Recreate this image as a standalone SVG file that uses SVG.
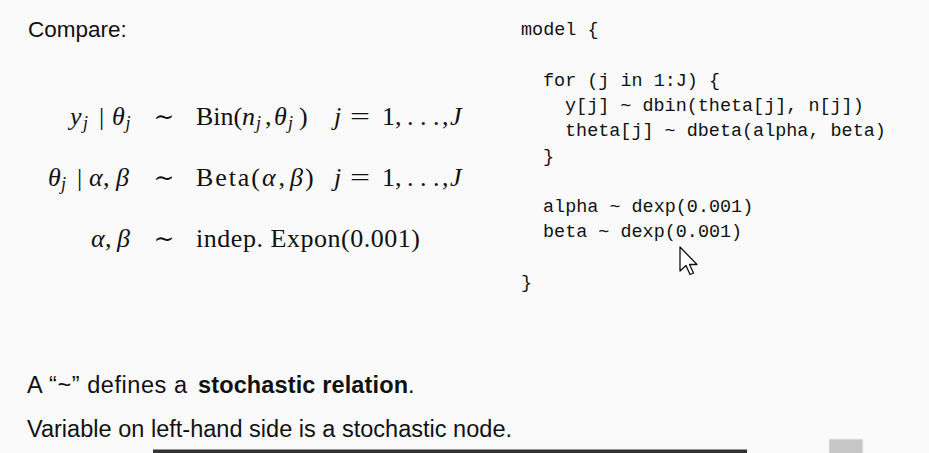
<svg xmlns="http://www.w3.org/2000/svg" width="929" height="453" viewBox="0 0 929 453">
<style>
.bg{fill:#fafafa}
.m{font-family:"Liberation Serif","DejaVu Serif",serif;font-size:26px;fill:#111}
.i{font-style:italic}
.s{font-family:"Liberation Serif","DejaVu Serif",serif;font-size:18px;font-style:italic;fill:#111}
.sim{font-family:"DejaVu Serif","Liberation Serif",serif;font-size:25px;fill:#111}
.code{font-family:"Liberation Mono","DejaVu Sans Mono",monospace;font-size:18.45px;fill:#111}
.t{font-family:"Liberation Sans","DejaVu Sans",sans-serif;font-size:23.5px;fill:#111}
.b{font-weight:bold}
.title{font-family:"Liberation Sans","DejaVu Sans",sans-serif;font-size:22.5px;fill:#111}
</style>
<rect class="bg" x="0" y="0" width="929" height="453"/>
<g id="title"><text class="title" x="28" y="37">Compare:</text></g>
<g id="math">
 <g id="eq1">
  <text class="m i" x="70" y="124.5">y</text>
  <text class="s" x="83" y="128.5">j</text>
  <text class="m" x="99" y="124.5">|</text>
  <text class="m i" x="112" y="124.5">θ</text>
  <text class="s" x="125.5" y="128.5">j</text>
  <text class="sim" x="164" y="124.5" text-anchor="middle">∼</text>
  <text class="m" x="196" y="124.5">Bin(</text>
  <text class="m i" x="242" y="124.5">n</text>
  <text class="s" x="256" y="128.5">j</text>
  <text class="m" x="265" y="124.5">,</text>
  <text class="m i" x="274" y="124.5">θ</text>
  <text class="s" x="288" y="128.5">j</text>
  <text class="m" x="299" y="124.5">)</text>
  <text class="m i" x="334" y="124.5">j</text>
  <text class="m" x="350" y="124.5" textLength="20" lengthAdjust="spacingAndGlyphs">=</text>
  <text class="m" x="382" y="124.5">1</text>
  <text class="m" x="395" y="124.5">,</text>
  <text class="m" x="407" y="124.5">.</text>
  <text class="m" x="420" y="124.5">.</text>
  <text class="m" x="433" y="124.5">.</text>
  <text class="m" x="442" y="124.5">,</text>
  <text class="m i" x="450" y="124.5">J</text>
 </g>
 <g id="eq2">
  <text class="m i" x="48" y="185.5">θ</text>
  <text class="s" x="61" y="189.5">j</text>
  <text class="m" x="77" y="185.5">|</text>
  <text class="m i" x="89" y="185.5">α</text>
  <text class="m" x="103" y="185.5">,</text>
  <text class="m i" x="116" y="185.5">β</text>
  <text class="sim" x="164" y="185.5" text-anchor="middle">∼</text>
  <text class="m" x="196" y="185.5" textLength="64" lengthAdjust="spacing">Beta(</text>
  <text class="m i" x="262" y="185.5">α</text>
  <text class="m" x="278.5" y="185.5">,</text>
  <text class="m i" x="290" y="185.5">β</text>
  <text class="m" x="305" y="185.5">)</text>
  <text class="m i" x="334" y="185.5">j</text>
  <text class="m" x="350" y="185.5" textLength="20" lengthAdjust="spacingAndGlyphs">=</text>
  <text class="m" x="382" y="185.5">1</text>
  <text class="m" x="395" y="185.5">,</text>
  <text class="m" x="407" y="185.5">.</text>
  <text class="m" x="420" y="185.5">.</text>
  <text class="m" x="433" y="185.5">.</text>
  <text class="m" x="442" y="185.5">,</text>
  <text class="m i" x="450" y="185.5">J</text>
 </g>
 <g id="eq3">
  <text class="m i" x="91" y="246.5">α</text>
  <text class="m" x="105" y="246.5">,</text>
  <text class="m i" x="117" y="246.5">β</text>
  <text class="sim" x="164" y="246.5" text-anchor="middle">∼</text>
  <text class="m" x="196" y="246.5" textLength="224" lengthAdjust="spacing">indep. Expon(0.001)</text>
 </g>
</g>
<g id="code">
 <text class="code" x="521" y="35">model {</text>
 <text class="code" x="543" y="85.6">for (j in 1:J) {</text>
 <text class="code" x="565" y="110.9">y[j] ~ dbin(theta[j], n[j])</text>
 <text class="code" x="565" y="136.2">theta[j] ~ dbeta(alpha, beta)</text>
 <text class="code" x="543" y="161.5">}</text>
 <text class="code" x="543" y="212.1">alpha ~ dexp(0.001)</text>
 <text class="code" x="543" y="237.4">beta ~ dexp(0.001)</text>
 <text class="code" x="521" y="288">}</text>
</g>
<g id="notes">
 <text class="t" y="393"><tspan x="27" textLength="160" lengthAdjust="spacing">A “~” defines a</tspan><tspan class="b" x="198" textLength="210" lengthAdjust="spacing">stochastic relation</tspan><tspan x="408">.</tspan></text>
 <text class="t" x="27" y="437" textLength="485" lengthAdjust="spacing">Variable on left-hand side is a stochastic node.</text>
</g>
<g id="overlay">
 <polygon points="680,247 680,271 686,265.5 690,274.5 693.5,273 689.5,264.5 697,264.5" fill="#fff" stroke="#111" stroke-width="1.3" stroke-linejoin="round"/>
 <rect x="153" y="449.5" width="594" height="4" fill="#333"/>
 <rect x="829" y="439" width="34" height="15" fill="#c6c6c6" stroke="#ececec" stroke-width="1"/>
</g>
</svg>
